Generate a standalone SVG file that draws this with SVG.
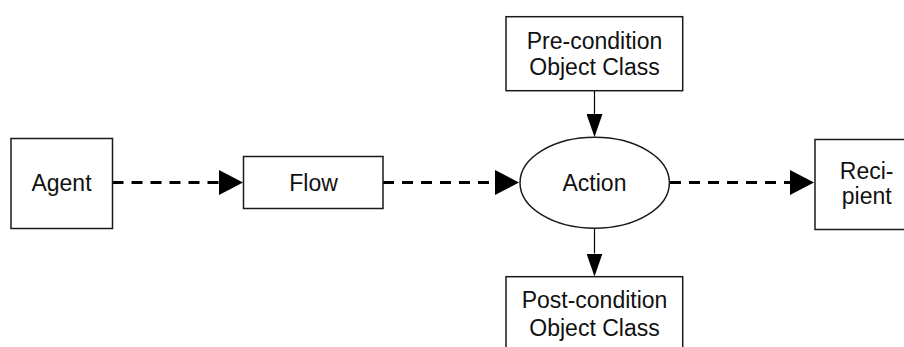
<svg xmlns="http://www.w3.org/2000/svg" width="904" height="347" viewBox="0 0 904 347">
  <style>
    .box { fill: #ffffff; stroke: #1a1a1a; stroke-width: 1.5; }
    .lbl { font-family: "Liberation Sans", Arial, sans-serif; font-size: 23px; fill: #111111; text-anchor: middle; }
    .dash { stroke: #000000; stroke-width: 3; stroke-dasharray: 11 8; fill: none; }
    .solid { stroke: #000000; stroke-width: 1.2; fill: none; }
  </style>
  <defs>
    <marker id="headH" markerUnits="userSpaceOnUse" viewBox="0 0 24 25" refX="0" refY="12.5" markerWidth="24" markerHeight="25" orient="auto">
      <path d="M0,0 L24,12.5 L0,25 Z" fill="#000000"/>
    </marker>
    <marker id="headV" markerUnits="userSpaceOnUse" viewBox="0 0 23 16" refX="0" refY="8" markerWidth="23" markerHeight="16" orient="auto">
      <path d="M0,0 L23,8 L0,16 Z" fill="#000000"/>
    </marker>
  </defs>
  <rect width="904" height="347" fill="#ffffff"/>

  <g id="connectors">
    <line class="dash" x1="112.5" y1="182.5" x2="219" y2="182.5" marker-end="url(#headH)"/>
    <line class="dash" x1="383" y1="182.5" x2="495" y2="182.5" marker-end="url(#headH)"/>
    <line class="dash" x1="670" y1="182.5" x2="790" y2="182.5" marker-end="url(#headH)"/>
    <line class="solid" x1="594.5" y1="91" x2="594.5" y2="114" marker-end="url(#headV)"/>
    <line class="solid" x1="594.5" y1="228.5" x2="594.5" y2="253.5" marker-end="url(#headV)"/>
  </g>

  <g id="agent">
    <rect class="box" x="11" y="138.5" width="101.5" height="90"/>
    <text class="lbl" x="61.5" y="191">Agent</text>
  </g>

  <g id="flow">
    <rect class="box" x="243.5" y="156.5" width="139.5" height="52"/>
    <text class="lbl" x="313.5" y="191">Flow</text>
  </g>

  <g id="action">
    <ellipse class="box" cx="594.7" cy="182.8" rx="74.7" ry="45.5"/>
    <text class="lbl" x="594.5" y="190.5">Action</text>
  </g>

  <g id="precondition">
    <rect class="box" x="506" y="16.7" width="176.7" height="74"/>
    <text class="lbl" x="594.5" y="48.5">Pre-condition</text>
    <text class="lbl" x="594.5" y="75">Object Class</text>
  </g>

  <g id="postcondition">
    <rect class="box" x="506" y="276.7" width="176.7" height="90"/>
    <text class="lbl" x="594.5" y="308">Post-condition</text>
    <text class="lbl" x="594.5" y="335.5">Object Class</text>
  </g>

  <g id="recipient">
    <rect class="box" x="815" y="139.5" width="105" height="90"/>
    <text class="lbl" x="866.7" y="178.5">Reci-</text>
    <text class="lbl" x="866.7" y="204">pient</text>
  </g>
</svg>
